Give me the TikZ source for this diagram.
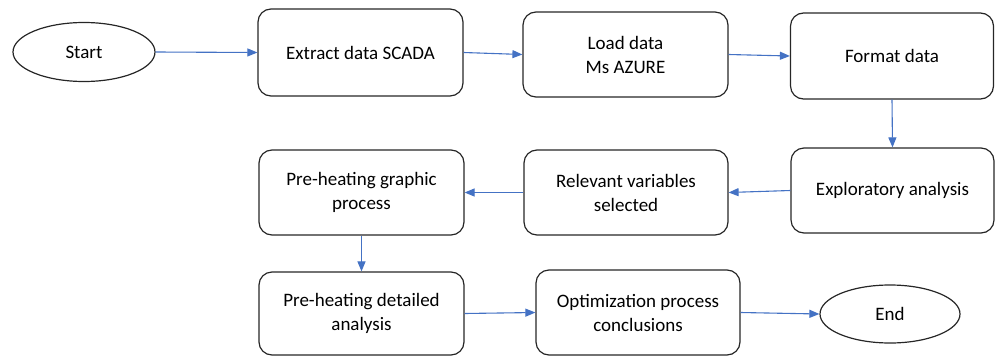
\documentclass[tikz,border=0pt]{standalone}
\usepackage{fontspec}
\setmainfont{Carlito}
\usetikzlibrary{shapes.geometric,arrows.meta}
\definecolor{arrowblue}{HTML}{4472C4}
\definecolor{boxline}{HTML}{262626}
\tikzset{
  procbox/.style={draw=boxline, line width=1.2pt, rounded corners=13pt, align=center,
    inner sep=0pt, font=\fontsize{19}{24}\selectfont},
  termnode/.style={draw=boxline, line width=1.2pt, ellipse, inner sep=0pt,
    font=\fontsize{19}{24}\selectfont},
  flow/.style={draw=arrowblue, line width=1.1pt, -{Triangle[length=10pt,width=8pt]}}
}
\begin{document}
\begin{tikzpicture}[x=1pt,y=-1pt]
\useasboundingbox (0,0) rectangle (995,356);
\node[termnode, minimum width=142pt, minimum height=59pt] (start) at (84,52) {Start};
\node[procbox, minimum width=205pt, minimum height=87pt] (extract) at (360.5,52.5) {Extract data SCADA};
\node[procbox, minimum width=205pt, minimum height=85pt] (load) at (625.5,54.5) {Load data\\Ms AZURE};
\node[procbox, minimum width=203pt, minimum height=86pt] (format) at (892,56) {Format data};
\node[procbox, minimum width=203pt, minimum height=85pt] (explor) at (892.5,190.5) {Exploratory analysis};
\node[procbox, minimum width=204pt, minimum height=85pt] (relevant) at (626,192.5) {Relevant variables\\selected};
\node[procbox, minimum width=205pt, minimum height=85pt] (pregraph) at (361.5,192.5) {Pre-heating graphic\\process};
\node[procbox, minimum width=205pt, minimum height=83pt] (predet) at (361.5,313.5) {Pre-heating detailed\\analysis};
\node[procbox, minimum width=204pt, minimum height=85pt] (optim) at (638,312.5) {Optimization process\\conclusions};
\node[termnode, minimum width=140pt, minimum height=58pt] (end) at (890,314) {End};
\draw[flow] (start.east) -- (extract.west);
\draw[flow] (extract.east) -- (load.west);
\draw[flow] (load.east) -- (format.west);
\draw[flow] (format.south) -- (explor.north);
\draw[flow] (explor.west) -- (relevant.east);
\draw[flow] (relevant.west) -- (pregraph.east);
\draw[flow] (pregraph.south) -- (predet.north);
\draw[flow] (predet.east) -- (optim.west);
\draw[flow] (optim.east) -- (end.west);
\end{tikzpicture}
\end{document}
